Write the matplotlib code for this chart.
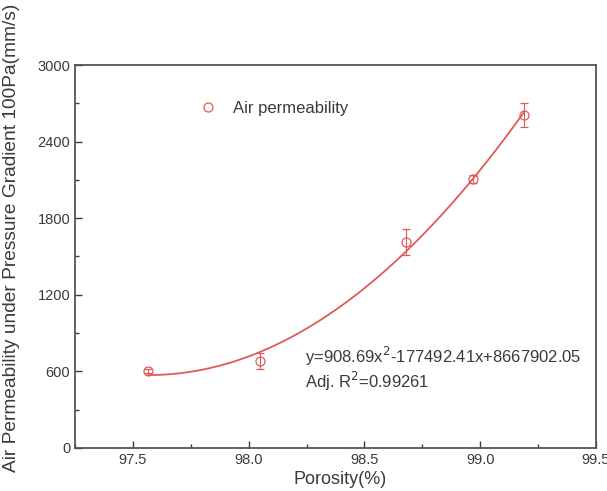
import numpy as np
import matplotlib
matplotlib.use('Agg')
import matplotlib.pyplot as plt
from matplotlib.ticker import MultipleLocator
from matplotlib.lines import Line2D

plt.rcParams['font.family'] = ['Liberation Sans', 'DejaVu Sans']

# data
porosity = [97.565, 98.05, 98.68, 98.97, 99.19]
permeability = [600, 680, 1615, 2105, 2610]
perm_err = [15, 65, 100, 30, 95]
fit_text = 'y=908.69x$^2$-177492.41x+8667902.05'
r2_text = 'Adj. R$^2$=0.99261'

red = '#e05a5a'
txt = '#3a3a3a'

fig = plt.figure(figsize=(6.07, 4.91), dpi=100)
ax = fig.add_axes([0.1236, 0.0876, 0.8583, 0.78])

# quadratic fit through the points
coef = np.polyfit(porosity, permeability, 2)
xs = np.linspace(min(porosity), max(porosity), 200)
ax.plot(xs, np.polyval(coef, xs), color=red, lw=1.3)
ax.errorbar(porosity, permeability, yerr=perm_err, fmt='o', mfc='none',
            mec=red, ecolor=red, ms=6.5, mew=0.9, elinewidth=0.8,
            capsize=3, capthick=0.8)

ax.set_xlim(97.25, 99.5)
ax.set_ylim(0, 3000)
ax.xaxis.set_major_locator(MultipleLocator(0.5))
ax.xaxis.set_minor_locator(MultipleLocator(0.25))
ax.yaxis.set_major_locator(MultipleLocator(600))
ax.yaxis.set_minor_locator(MultipleLocator(300))
ax.tick_params(which='both', direction='in', colors=txt, labelsize=10.5)
ax.tick_params(which='major', length=5, width=1)
ax.tick_params(which='minor', length=3, width=1)
for s in ax.spines.values():
    s.set_color('#555555')
    s.set_linewidth(1.3)

ax.set_xlabel('Porosity(%)', fontsize=13, color=txt)
ax.set_ylabel('Air Permeability under Pressure Gradient 100Pa(mm/s)',
              fontsize=13.8, color=txt)
ax.xaxis.set_label_coords(0.509, -0.06)
ax.yaxis.set_label_coords(-0.105, 0.55)

handle = Line2D([], [], ls='none', marker='o', mfc='none', mec=red, ms=6.5,
                mew=0.9)
leg = ax.legend([handle], ['Air permeability'], loc='upper left',
                bbox_to_anchor=(0.194, 0.945), frameon=False,
                fontsize=12, handletextpad=0.5)
for t in leg.get_texts():
    t.set_color(txt)

ax.text(0.441, 0.24, fit_text, transform=ax.transAxes, fontsize=12,
        color=txt, va='center')
ax.text(0.441, 0.175, r2_text, transform=ax.transAxes, fontsize=12,
        color=txt, va='center')

fig.savefig('out.png', dpi=100)
